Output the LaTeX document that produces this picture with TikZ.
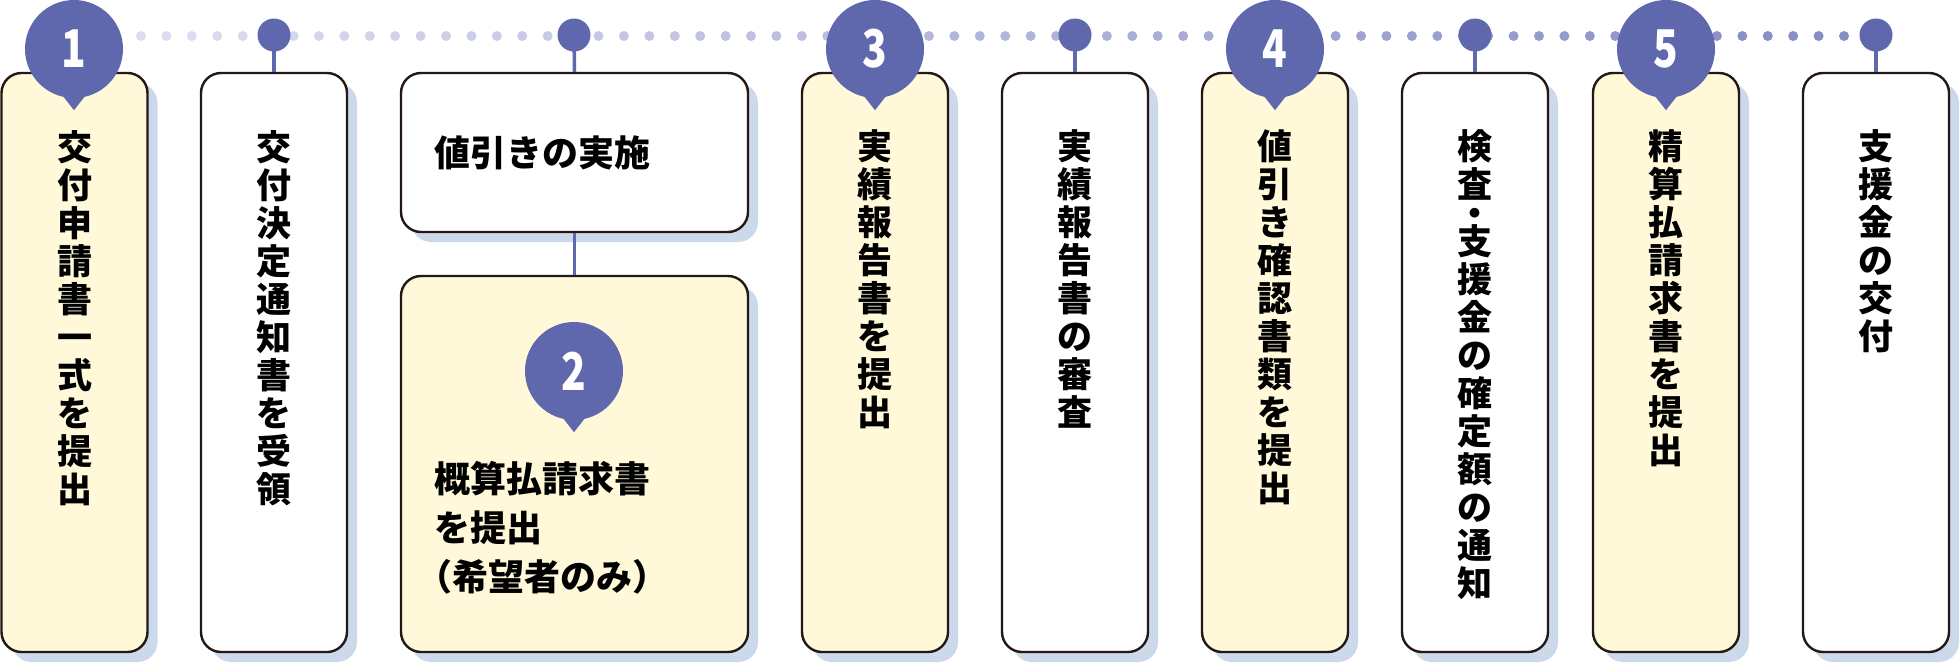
\documentclass[tikz,border=0pt]{standalone}
\usepackage{fontspec}
\setmainfont{Noto Sans CJK JP}
\usetikzlibrary{positioning,shadows}

\definecolor{pinblue}{HTML}{5F67AD}
\definecolor{shadowblue}{HTML}{CCD9EA}
\definecolor{cream}{HTML}{FFF9DA}
\definecolor{edge}{HTML}{231815}
\definecolor{dotlight}{HTML}{DCDEF0}
\definecolor{dotdark}{HTML}{888CC6}

\newcommand\tatefont{\fontsize{35}{38}\selectfont\bfseries}
\newcommand\yokofont{\fontsize{36}{49}\selectfont\bfseries}
\newcommand\numfont{\fontsize{52}{52}\selectfont\bfseries}
\newcommand\halfparen[1]{{\addfontfeatures{RawFeature=+halt}#1}}
\newcommand\stepnum[1]{\scalebox{0.78}[1]{#1}}

\tikzset{
  stepbox/.style={draw=edge, line width=2.4pt, rounded corners=20pt, fill=white,
    minimum width=146pt, minimum height=579pt, inner sep=0pt,
    drop shadow={shadow xshift=10pt, shadow yshift=-10pt, fill=shadowblue, opacity=1}},
  hilite/.style={fill=cream},
  tate/.style={font=\tatefont, align=center, inner sep=0pt, anchor=north},
  marker/.style={circle, fill=pinblue, minimum size=98pt, inner sep=0pt, text=white, font=\numfont},
  pin/.style={circle, fill=pinblue, minimum size=33pt, inner sep=0pt},
  stem/.style={draw=pinblue, line width=3.5pt},
}

\begin{document}
\begin{tikzpicture}[x=1pt,y=-1pt]
  \useasboundingbox (0,0) rectangle (1960,664);

  % dotted time line
  \foreach \i in {0,...,67} {
    \pgfmathtruncatemacro\mix{100-\i*100/67}
    \fill[dotlight!\mix!dotdark] (141+\i*25.418,36) circle (5pt);
  }

  % boxes
  \node[stepbox, hilite] (s1) at (74.5,362.5) {};
  \node[stepbox] (s2) at (274,362.5) {};
  \node[stepbox, minimum width=347pt, minimum height=159pt] (s3a) at (574.5,152.5) {};
  \node[stepbox, hilite, minimum width=347pt, minimum height=376pt] (s3b) at (574.5,464) {};
  \node[stepbox, hilite] (s4) at (875,362.5) {};
  \node[stepbox] (s5) at (1075,362.5) {};
  \node[stepbox, hilite] (s6) at (1275,362.5) {};
  \node[stepbox] (s7) at (1475,362.5) {};
  \node[stepbox, hilite] (s8) at (1666,362.5) {};
  \node[stepbox] (s9) at (1876,362.5) {};

  % pins on the line
  \node[pin] (p2) at (274,35) {};
  \node[pin] (p3) at (574,35) {};
  \node[pin] (p5) at (1075,35) {};
  \node[pin] (p7) at (1475,35) {};
  \node[pin] (p9) at (1876,35) {};
  \draw[stem] (p2.center) -- (s2.north);
  \draw[stem] (p3.center) -- (s3a.north);
  \draw[stem] (s3a.south) -- (s3b.north);
  \draw[stem] (p5.center) -- (s5.north);
  \draw[stem] (p7.center) -- (s7.north);
  \draw[stem] (p9.center) -- (s9.north);

  % numbered markers
  \node[marker] (m1) at (74,49) {\stepnum{1}};
  \node[marker] (m2) at (574,371) {\stepnum{2}};
  \node[marker] (m3) at (875,49) {\stepnum{3}};
  \node[marker] (m4) at (1275,49) {\stepnum{4}};
  \node[marker] (m5) at (1666,49) {\stepnum{5}};
  \foreach \m in {m1,m2,m3,m4,m5}
    \fill[pinblue] (\m.-78) -- ([yshift=-12pt]\m.south) -- (\m.-102) -- cycle;

  % texts
  \node[tate, below=58pt of s1.north] (t1) {交\\付\\申\\請\\書\\一\\式\\を\\提\\出};
  \node[tate, below=58pt of s2.north] (t2) {交\\付\\決\\定\\通\\知\\書\\を\\受\\領};
  \node[font=\yokofont, inner sep=0pt, anchor=west] (t3a) at ([xshift=34pt]s3a.west) {値引きの実施};
  \node[font=\yokofont, inner sep=0pt, align=left, below right=186pt and 34pt of s3b.north west] (t3b)
    {概算払請求書\\を提出\\\halfparen{（}希望者のみ\halfparen{）}};
  \node[tate, below=58pt of s4.north] (t4) {実\\績\\報\\告\\書\\を\\提\\出};
  \node[tate, below=58pt of s5.north] (t5) {実\\績\\報\\告\\書\\の\\審\\査};
  \node[tate, below=58pt of s6.north] (t6) {値\\引\\き\\確\\認\\書\\類\\を\\提\\出};
  \node[tate, below=58pt of s7.north] (t7) {検\\査\\[-9.5pt]・\\[-9.5pt]支\\援\\金\\の\\確\\定\\額\\の\\通\\知};
  \node[tate, below=58pt of s8.north] (t8) {精\\算\\払\\請\\求\\書\\を\\提\\出};
  \node[tate, below=58pt of s9.north] (t9) {支\\援\\金\\の\\交\\付};
\end{tikzpicture}
\end{document}
